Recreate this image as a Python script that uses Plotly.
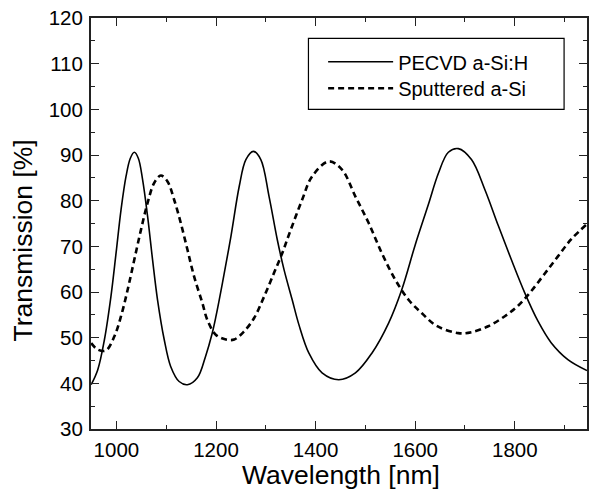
import plotly.graph_objects as go

# PECVD a-Si:H (solid)
pecvd_x = [949.3, 962.6, 976, 989, 999.3, 1009.3, 1019.3, 1028, 1036, 1044, 1052.6, 1062.6, 1072.6, 1082.6,
           1096, 1109, 1126, 1142.6, 1162.6, 1179, 1192, 1200, 1213, 1230, 1246.6, 1260, 1275, 1290,
           1306.6, 1323, 1336.6, 1353, 1366.6, 1386.6, 1413, 1446.6, 1480, 1513, 1546.6, 1573, 1600,
           1626.6, 1646.6, 1666.6, 1686.6, 1713, 1740, 1766.6, 1793, 1820, 1846.6, 1873, 1906.6, 1945]
pecvd_y = [39.7, 43.0, 49.6, 59.0, 68.5, 78.0, 85.3, 89.3, 90.6, 89.3, 84.6, 76.6, 67.1, 58.3,
           49.6, 43.7, 40.4, 39.7, 41.2, 45.9, 50.8, 54.7, 62.0, 72.2, 83.1, 89.0, 90.8, 89.0,
           80.9, 71.5, 64.9, 58.3, 52.8, 46.6, 42.3, 40.8, 42.3, 46.6, 53.2, 60.5, 70.3,
           79.2, 86.0, 90.6, 91.4, 89.0, 82.4, 74.6, 67.1, 59.8, 53.6, 48.9, 45.2, 42.8]

# Sputtered a-Si (dashed)
sput_x = [949.3, 962.6, 979, 996, 1009.3, 1022.6, 1036, 1049.3, 1062.6, 1076, 1089.3, 1102.6, 1116, 1129.3,
          1142.6, 1156, 1172.6, 1182.6, 1200, 1220, 1236.6, 1256.6, 1276.6, 1296.6, 1316.6, 1333, 1348,
          1373, 1393, 1426.6, 1453, 1480, 1506.6, 1533, 1560, 1586.6, 1613, 1643, 1686.6, 1713, 1746.6,
          1780, 1806.6, 1833, 1860, 1886.6, 1913, 1945]
sput_y = [48.8, 47.4, 47.2, 50.3, 54.7, 60.5, 67.1, 73.6, 79.5, 83.9, 85.5, 84.2, 80.2, 75.1,
          69.3, 63.4, 57.6, 53.9, 50.6, 49.6, 49.6, 51.4, 54.3, 59.0, 64.2, 68.5, 73.0,
          80.2, 85.3, 88.6, 86.8, 80.9, 75.1, 68.5, 62.7, 58.3, 55.4, 52.6, 51.0, 51.2, 52.5,
          54.7, 57.0, 60.2, 64.0, 67.8, 71.5, 74.9]

FONT = "Liberation Sans, Arial, sans-serif"

fig = go.Figure()
fig.add_trace(go.Scatter(x=pecvd_x, y=pecvd_y, mode="lines", name="PECVD a-Si:H", legend="legend",
                         line=dict(color="black", width=1.6, shape="spline", smoothing=1.0)))
fig.add_trace(go.Scatter(x=sput_x, y=sput_y, mode="lines", name="Sputtered a-Si", legend="legend2",
                         line=dict(color="black", width=2.6, dash="6px,4px", shape="spline", smoothing=1.0)))

axis_common = dict(showgrid=False, zeroline=False, showline=True, linecolor="#222", linewidth=2,
                   mirror="ticks", ticks="inside", ticklen=8, tickwidth=1.3, tickcolor="#222",
                   tickfont=dict(family=FONT, size=20.5, color="black"))

leg_common = dict(xanchor="left", yanchor="middle", borderwidth=0, bgcolor="rgba(0,0,0,0)",
                  font=dict(family=FONT, size=20, color="black"), itemwidth=65)

fig.update_layout(
    width=590, height=493,
    margin=dict(l=91, r=1, t=18, b=64),
    plot_bgcolor="white", paper_bgcolor="white",
    font=dict(family=FONT, color="black"),
    xaxis=dict(range=[949, 1945], tickvals=[1000, 1200, 1400, 1600, 1800], ticklabelstandoff=1,
               minor=dict(ticks="inside", tickvals=[1100, 1300, 1500, 1700, 1900], ticklen=4, tickcolor="#222"),
               **axis_common),
    yaxis=dict(range=[30, 120], dtick=10, ticklabelstandoff=2,
               minor=dict(ticks="inside", dtick=5, ticklen=4, tickcolor="#222"),
               **axis_common),
    legend=dict(x=0.468, y=0.8937, **leg_common),
    legend2=dict(x=0.468, y=0.829, **leg_common),
    showlegend=True,
    shapes=[dict(type="rect", xref="paper", yref="paper", x0=0.4384, x1=0.9538, y0=0.7779, y1=0.9506,
                 line=dict(color="black", width=1.2), fillcolor="rgba(0,0,0,0)", layer="above")],
    annotations=[
        dict(text="Transmission [%]", xref="paper", yref="paper", x=-0.139, y=0.4586, textangle=-90,
             xanchor="center", yanchor="middle", showarrow=False, font=dict(family=FONT, size=26.5, color="black")),
        dict(text="Wavelength [nm]", xref="paper", yref="paper", x=0.505, y=-0.112,
             xanchor="center", yanchor="middle", showarrow=False, font=dict(family=FONT, size=26.5, color="black")),
    ],
)

fig.write_html("out.html")
